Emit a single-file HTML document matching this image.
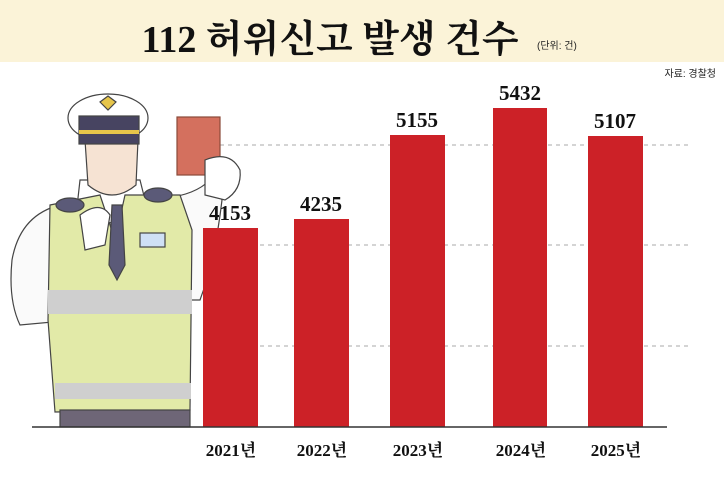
<!DOCTYPE html>
<html><head><meta charset="utf-8"><style>
body{margin:0;width:724px;height:474px;background:#fff;overflow:hidden;font-family:"Liberation Serif","Noto Serif CJK SC",serif;}
</style></head><body>
<svg width="724" height="474" viewBox="0 0 724 474" xmlns="http://www.w3.org/2000/svg">
<rect x="0" y="0" width="724" height="62" fill="#fbf3d8"/>
<text x="330" y="52" text-anchor="middle" font-family="Liberation Serif,'Noto Serif CJK SC',serif" font-weight="bold" font-size="38" fill="#111">112 허위신고 발생 건수</text>
<text x="537" y="49" font-family="Liberation Sans,'Noto Sans CJK KR',sans-serif" font-size="10" fill="#222">(단위: 건)</text>
<text x="716" y="77" text-anchor="end" font-family="Liberation Sans,'Noto Sans CJK KR',sans-serif" font-size="10" fill="#222">자료: 경찰청</text>
<g stroke="#bbb" stroke-width="1.3" stroke-dasharray="4,4">
<line x1="220" y1="145" x2="688" y2="145"/>
<line x1="220" y1="245" x2="688" y2="245"/>
<line x1="220" y1="346" x2="688" y2="346"/>
</g>
<!-- illustration -->
<g stroke="#444" stroke-width="1.2">
<path d="M12 260 Q20 215 60 205 L80 215 L75 320 L20 325 Q8 300 12 260Z" fill="#fafafa"/>
<path d="M165 198 Q195 195 210 180 L222 200 Q215 260 200 300 L170 300Z" fill="#fafafa"/>
<rect x="177" y="117" width="43" height="58" fill="#d4705e" stroke="#8a4a3a"/>
<path d="M205 160 Q230 150 240 170 Q242 190 225 200 L205 195Z" fill="#fff"/>
<path d="M80 180 L140 180 L150 220 L75 225Z" fill="#fff"/>
<path d="M50 205 L100 195 L115 240 L125 195 L180 195 L192 230 L190 410 L55 412 L48 320Z" fill="#e2eaa8"/>
<rect x="48" y="290" width="144" height="24" fill="#cfcfcf" stroke="none"/>
<rect x="55" y="383" width="136" height="16" fill="#cfcfcf" stroke="none"/>
<path d="M112 205 L122 205 L125 265 L117 280 L109 265Z" fill="#5b5a78"/>
<rect x="140" y="233" width="25" height="14" fill="#cfe0f5"/>
<rect x="60" y="410" width="130" height="17" fill="#6e6677"/>
<path d="M85 140 L138 140 L136 185 Q112 205 88 185Z" fill="#f6e3d3"/>
<ellipse cx="108" cy="118" rx="40" ry="24" fill="#fff"/>
<rect x="79" y="116" width="60" height="28" fill="#474461"/>
<rect x="79" y="130" width="60" height="4" fill="#e6c54a" stroke="none"/>
<path d="M100 102 L108 96 L116 102 L108 110Z" fill="#e6c54a"/>
<path d="M80 215 Q100 200 110 215 L105 245 L85 250Z" fill="#fff"/>
<ellipse cx="70" cy="205" rx="14" ry="7" fill="#5b5a78"/>
<ellipse cx="158" cy="195" rx="14" ry="7" fill="#5b5a78"/>
</g>
<!-- bars -->
<g fill="#cc2127">
<rect x="203" y="228" width="55" height="199"/>
<rect x="294" y="219" width="55" height="208"/>
<rect x="390" y="135" width="55" height="292"/>
<rect x="493" y="108" width="54" height="319"/>
<rect x="588" y="136" width="55" height="291"/>
</g>
<line x1="32" y1="427" x2="667" y2="427" stroke="#333" stroke-width="1.5"/>
<g font-size="21" font-weight="bold" fill="#111" text-anchor="middle">
<text x="230" y="220">4153</text>
<text x="321" y="211">4235</text>
<text x="417" y="127">5155</text>
<text x="520" y="100">5432</text>
<text x="615" y="128">5107</text>
</g>
<g font-size="17" font-weight="bold" fill="#111" text-anchor="middle">
<text x="231" y="456">2021년</text>
<text x="322" y="456">2022년</text>
<text x="418" y="456">2023년</text>
<text x="521" y="456">2024년</text>
<text x="616" y="456">2025년</text>
</g>
</svg>
</body></html>
